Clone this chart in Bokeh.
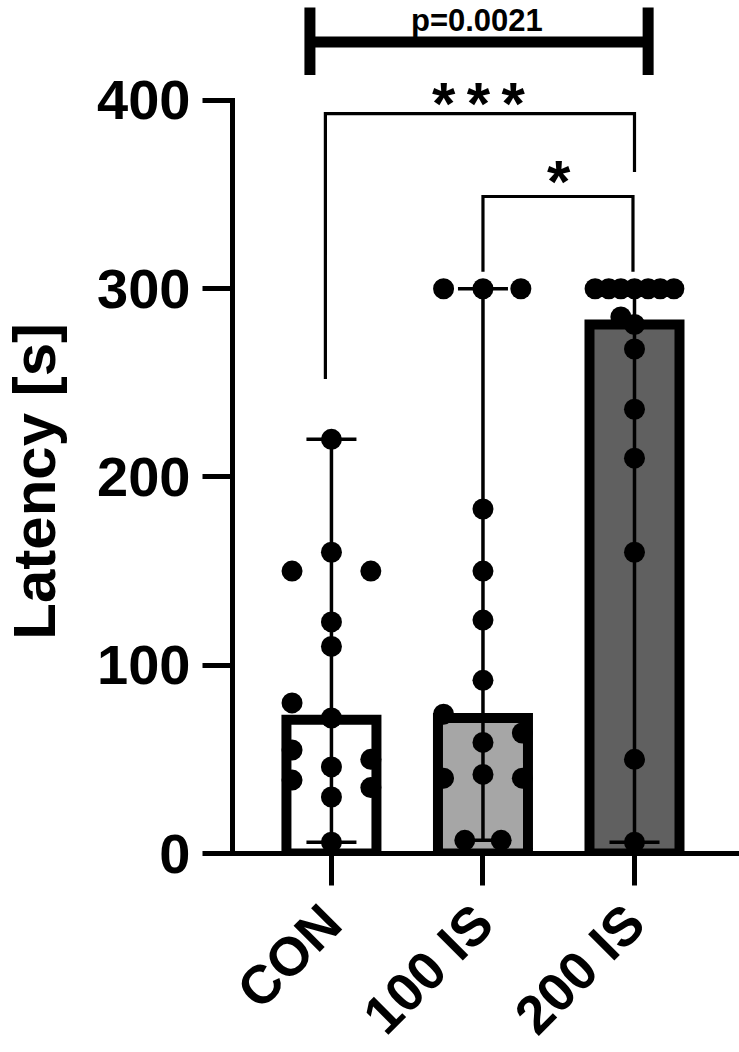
from math import pi
from bokeh.plotting import figure
from bokeh.layouts import row
from bokeh.models import Range1d, FixedTicker
from bokeh.core.properties import value
from bokeh.embed import file_html
from bokeh.resources import INLINE

# ---------------- data ----------------
categories = ["CON", "100 IS", "200 IS"]
bar_medians = [71, 72, 281]
range_low = [6, 7, 6]
range_high = [220, 300, 300]
bar_colors = ["#ffffff", "#a6a6a6", "#606060"]

con_values = [220, 160, 150, 150, 123, 110, 80, 72, 55, 39, 46, 30, 50, 35, 6]
con_jitter = [0, 0, -0.26, 0.26, 0, 0, -0.26, 0, -0.26, -0.26, 0, 0, 0.26, 0.26, 0]

is100_values = [300, 300, 300, 183, 150, 124, 92, 74, 64, 59, 42, 40, 40, 7, 7]
is100_jitter = [-0.26, 0, 0.25, 0, 0, 0, 0, -0.26, 0.26, 0, 0, -0.26, 0.26, -0.12, 0.12]

is200_values = [300, 300, 300, 300, 300, 300, 300, 285, 281, 268, 236, 210, 160, 50, 6]
is200_jitter = [-0.26, -0.17, -0.09, 0, 0.09, 0.17, 0.26, -0.09, 0, 0, 0, 0, 0, 0, 0]

y_ticks = [0, 100, 200, 300, 400]
y_label = "Latency [s]"
p_text = "p=0.0021"

FONT = "Liberation Sans"
LABEL_W = 70

# ---------------- y-axis title panel ----------------
lab = figure(width=LABEL_W, height=1052, x_range=Range1d(0, LABEL_W), y_range=Range1d(0, 1052),
             x_axis_location=None, y_axis_location=None,
             min_border_left=0, min_border_right=0, min_border_top=0, min_border_bottom=0,
             output_backend="svg", toolbar_location=None, tools="")
lab.xgrid.visible = False
lab.ygrid.visible = False
lab.outline_line_color = None
lab.text(x=[34], y=[447], text=[y_label], angle=pi / 2, text_font=value(FONT),
         text_font_size="60px", text_font_style="bold", text_align="center",
         text_baseline="middle", text_color="black")

# ---------------- main figure ----------------
p = figure(frame_width=507, frame_height=853,
           min_border_left=232 - LABEL_W, min_border_right=0, min_border_top=0,
           min_border_bottom=199,
           x_range=Range1d(-0.653, 2.693), y_range=Range1d(0, 453.1),
           output_backend="svg", toolbar_location=None, tools="")
p.outline_line_color = None
p.xgrid.visible = False
p.ygrid.visible = False
p.background_fill_color = "white"
p.border_fill_color = "white"

xs = list(range(len(categories)))

# bars (median)
p.vbar(x=xs, top=bar_medians, bottom=0, width=0.594, fill_color=bar_colors,
       line_color="black", line_width=10, line_join="miter")

# range error bars
p.segment(x0=xs, y0=range_low, x1=xs, y1=range_high, line_color="black", line_width=3.5)
cap = 0.165
p.segment(x0=[x - cap for x in xs], y0=range_high, x1=[x + cap for x in xs], y1=range_high,
          line_color="black", line_width=3.5)
p.segment(x0=[x - cap for x in xs], y0=range_low, x1=[x + cap for x in xs], y1=range_low,
          line_color="black", line_width=3.5)

# individual points
for i, (vals, jit) in enumerate([(con_values, con_jitter),
                                 (is100_values, is100_jitter),
                                 (is200_values, is200_jitter)]):
    p.scatter(x=[i + j for j in jit], y=vals, size=21, marker="circle",
              fill_color="black", line_color="black", line_width=0)

# significance brackets
# *** : CON vs 200 IS
p.line(x=[-0.04, -0.04, 2.0, 2.0], y=[252, 393, 393, 362], line_color="black",
       line_width=3.2, line_join="miter")
p.text(x=[0.74, 0.97, 1.20], y=[398.5, 398.5, 398.5], text=["*", "*", "*"],
       text_font=value(FONT), text_font_size="60px", text_font_style="bold",
       text_align="center", text_baseline="alphabetic", text_color="black")
# * : 100 IS vs 200 IS
p.line(x=[1.0, 1.0, 1.99, 1.99], y=[309, 349, 349, 309], line_color="black",
       line_width=3.2, line_join="miter")
p.text(x=[1.5], y=[357], text=["*"], text_font=value(FONT), text_font_size="60px",
       text_font_style="bold", text_align="center", text_baseline="alphabetic",
       text_color="black")
# p-value bar
p.segment(x0=[-0.142], y0=[431], x1=[2.09], y1=[431], line_color="black", line_width=11)
p.segment(x0=[-0.142, 2.09], y0=[413.5, 413.5], x1=[-0.142, 2.09], y1=[449.4, 449.4],
          line_color="black", line_width=11)
p.text(x=[0.96], y=[442.7], text=[p_text], text_font=value(FONT), text_font_size="31px",
       text_font_style="bold", text_align="center", text_baseline="alphabetic",
       text_color="black")

# ---------------- axes ----------------
yax = p.yaxis[0]
yax.ticker = FixedTicker(ticks=y_ticks)
yax.bounds = (0, 400)
yax.axis_line_width = 5
yax.axis_line_cap = "square"
yax.major_tick_line_width = 5
yax.major_tick_out = 30
yax.major_tick_in = 0
yax.minor_tick_line_color = None
yax.major_label_standoff = 12
yax.major_label_text_font = FONT
yax.major_label_text_font_size = "56px"
yax.major_label_text_font_style = "bold"
yax.major_label_text_color = "black"

xax = p.xaxis[0]
xax.ticker = FixedTicker(ticks=xs)
xax.major_label_overrides = {i: c for i, c in enumerate(categories)}
xax.axis_line_width = 5
xax.major_tick_line_width = 5
xax.major_tick_out = 32
xax.major_tick_in = 0
xax.minor_tick_line_color = None
xax.major_label_orientation = pi / 4
xax.major_label_standoff = 28
xax.major_label_text_font = FONT
xax.major_label_text_font_size = "54px"
xax.major_label_text_font_style = "bold"
xax.major_label_text_color = "black"

layout = row(lab, p, spacing=0)
open("out.html", "w").write(file_html(layout, INLINE))
